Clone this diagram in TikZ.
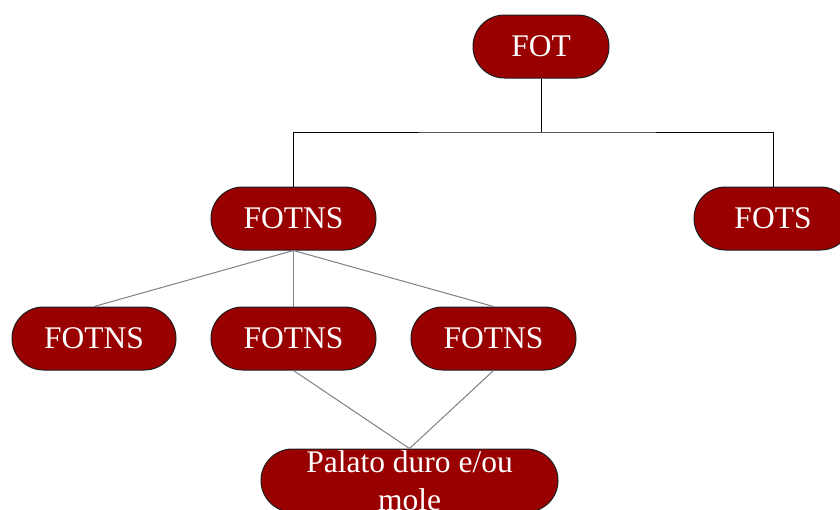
\documentclass[tikz,border=0pt]{standalone}
\usepackage{fontspec}
\setmainfont{Liberation Serif}
\usetikzlibrary{shapes.misc}
\definecolor{pillred}{HTML}{990000}
\definecolor{pillline}{HTML}{1E1E1E}
\definecolor{linkgray}{HTML}{808080}
\begin{document}
\begin{tikzpicture}[x=1pt,y=-1pt,
  pill/.style={rounded rectangle, draw=pillline, line width=1pt, fill=pillred,
    text=white, minimum height=63pt, inner xsep=0pt, inner ysep=0pt,
    font=\fontsize{31.5}{38}\selectfont, align=center},
  tree/.style={draw=black, line width=1pt},
  link/.style={draw=linkgray, line width=1pt}]
  \useasboundingbox (0,0) rectangle (840,509);

  % nodes
  \node[pill, minimum width=136pt] (fot)  at (541,46.5)   {FOT};
  \node[pill, minimum width=165pt] (ns)   at (293.5,218.5) {FOTNS};
  \node[pill, minimum width=158pt] (fots) at (773,218.5)  {FOTS};
  \node[pill, minimum width=164pt] (nsa)  at (94,338.5)   {FOTNS};
  \node[pill, minimum width=165pt] (nsb)  at (293.5,338.5) {FOTNS};
  \node[pill, minimum width=165pt] (nsc)  at (493.5,338.5) {FOTNS};
  \node[pill, minimum width=297pt] (pal)  at (409.5,480.5) {Palato duro e/ou\\mole};

  % top level bracket
  \coordinate (split) at (541,132);
  \draw[tree] (fot.south) -- (split);
  \draw[tree] (ns.north) |- (split) -| (fots.north);

  % second level links
  \draw[link] (ns.south) -- (nsa.north);
  \draw[link] (ns.south) -- (nsb.north);
  \draw[link] (ns.south) -- (nsc.north);
  \draw[link] (nsb.south) -- (pal.north);
  \draw[link] (nsc.south) -- (pal.north);
\end{tikzpicture}
\end{document}
